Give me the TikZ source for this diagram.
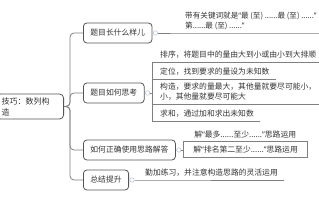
\documentclass[tikz,border=0pt]{standalone}
\usepackage{fontspec}
\setmainfont{Noto Sans CJK SC}
\newfontfamily\quotefont{Noto Sans}
\newcommand{\lqm}{{\quotefont “}}
\newcommand{\rqm}{{\quotefont ”}}
\usetikzlibrary{positioning,calc}
\definecolor{linegray}{HTML}{808080}
\definecolor{boxgray}{HTML}{555555}
\definecolor{txtgray}{HTML}{333333}
\definecolor{knobblue}{HTML}{B4C0D4}
\tikzset{
  rootbox/.style={draw=boxgray, rounded corners=4pt, line width=0.8pt, text width=57pt, align=left, inner xsep=5pt, font=\fontsize{8}{11}\selectfont, text=txtgray, anchor=east},
  topic/.style={draw=boxgray, rounded corners=3.5pt, line width=0.8pt, minimum height=20pt, inner xsep=7pt, font=\fontsize{7.8}{10}\selectfont, text=txtgray, anchor=west},
  leaf/.style={anchor=south west, align=left, inner xsep=6pt, inner ysep=3pt, font=\fontsize{7.8}{10}\selectfont, text=txtgray},
  knob/.style={circle, draw=knobblue, fill=white, line width=0.5pt, minimum size=4.5pt, inner sep=0pt},
  link/.style={draw=linegray, line width=0.8pt},
}
\begin{document}
\begin{tikzpicture}[x=1pt, y=-1pt]
\useasboundingbox (0,0) rectangle (319,200);

% Root topic (cut off at the left edge)
\node[rootbox] (root) at (64,106.5) {技巧：数列构\\造};

% Main topics
\node[topic] (t1) at (83,33) {题目长什么样儿};
\node[topic] (t2) at (83,93) {题目如何思考};
\node[topic] (t3) at (83,150) {如何正确使用思路解答};
\node[topic] (t4) at (83,180) {总结提升};

\foreach \t in {t1,t2,t3,t4}
  \draw[link, rounded corners=4pt] (root.east) -- ++(6,0) |- (\t.west);

% Collapse knobs
\node[knob, right=0.5pt of t1] (k1) {};
\node[knob, right=0.5pt of t2] (k2) {};
\node[knob, right=0.5pt of t3] (k3) {};
\node[knob, right=0.5pt of t4] (k4) {};

% What the problem looks like
\node[leaf, inner xsep=2pt, font=\fontsize{7.6}{10}\selectfont] (a1) at (183,33) {带有关键词就是\lqm 最 (至) ......最 (至) ......\rqm\\第......最 (至) ......\rqm};
\draw[link] (k1.east) -- (a1.south west) -- (a1.south east) -- ++(5,0);

% How to think
\node[leaf] (s1) at (154,62) {排序，将题目中的量由大到小或由小到大排顺};
\node[leaf] (s2) at (154,79) {定位，找到要求的量设为未知数};
\node[leaf] (s3) at (154,104) {构造，要求的量最大，其他量就要尽可能小，\\小，其他量就要尽可能大};
\node[leaf] (s4) at (154,121) {求和，通过加和求出未知数};
\foreach \s in {s1,s2,s3,s4}
  \draw[link] (k2.east) -- ++(2,0) |- (\s.south east);

% Using the idea
\node[leaf, minimum width=124pt, inner xsep=9pt] (b1) at (183,141) {解\lqm 最多......至少......\rqm 思路运用};
\node[draw=linegray, line width=0.8pt, anchor=north west, minimum width=124pt, minimum height=16pt, inner xsep=10pt, font=\fontsize{7.8}{10}\selectfont, text=txtgray, text width=104pt, align=left] (b2) at (183,141) {解\lqm 排名第二至少......\rqm 思路运用};
\draw[link] (k3.east) -- (k3.east -| b2.west);
\draw[link] (b1.south west) -- (b1.south east);

% Summary
\node[leaf] (d1) at (139,180) {勤加练习，并注意构造思路的灵活运用};
\draw[link] (k4.east) -- (d1.south west) -- (d1.south east);

\end{tikzpicture}
\end{document}
